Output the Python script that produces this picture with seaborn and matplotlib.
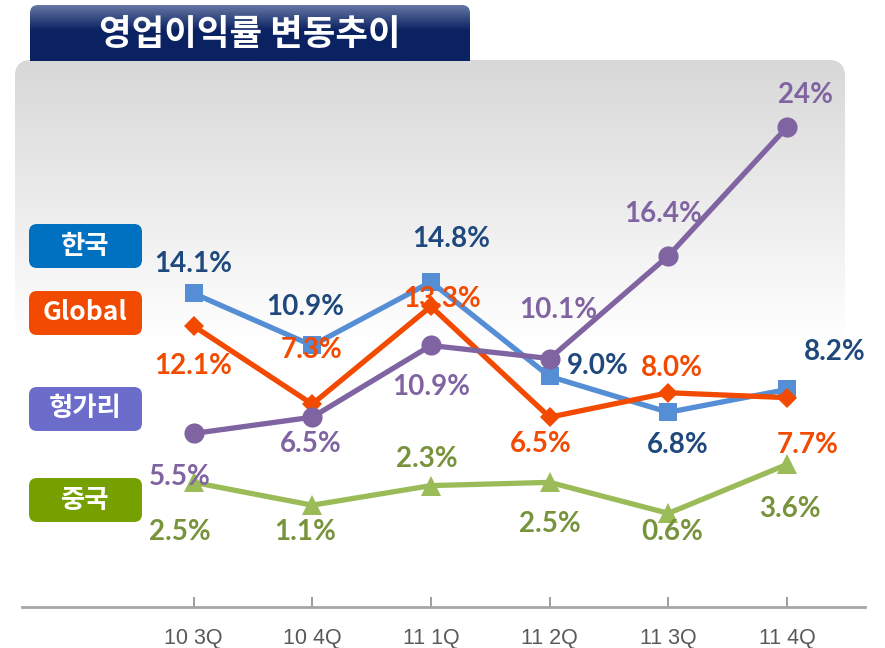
import numpy as np
import pandas as pd
import matplotlib
matplotlib.use("Agg")
import matplotlib.pyplot as plt
from matplotlib.patches import FancyBboxPatch
from matplotlib import font_manager
from matplotlib.colors import to_rgb
import seaborn as sns

sns.set_theme(style="white")

# data
quarters = ["10 3Q", "10 4Q", "11 1Q", "11 2Q", "11 3Q", "11 4Q"]
korea = [14.1, 10.9, 14.8, 9.0, 6.8, 8.2]
glob = [12.1, 7.3, 13.3, 6.5, 8.0, 7.7]
hungary = [5.5, 6.5, 10.9, 10.1, 16.4, 24.3]
china = [2.5, 1.1, 2.3, 2.5, 0.6, 3.6]
series_names = ["한국", "Global", "헝가리", "중국"]
hungary_labels = ["5.5%", "6.5%", "10.9%", "10.1%", "16.4%", "24%"]
title = "영업이익률 변동추이"

names = {f.name for f in font_manager.fontManager.ttflist}
kr_font = "Noto Sans CJK KR"
num_font = "Lato" if "Lato" in names else "DejaVu Sans"
tick_font = "Liberation Sans Narrow" if "Liberation Sans Narrow" in names else "Liberation Sans"
plt.rcParams["font.family"] = [kr_font, "DejaVu Sans"]

df = pd.DataFrame({
    "pos": list(range(len(quarters))) * 4,
    "series": np.repeat(series_names, len(quarters)),
    "value": korea + glob + hungary + china,
})

line_col = {"한국": "#558ED5", "Global": "#F24A00", "헝가리": "#8064A2", "중국": "#9BBB59"}
text_col = {"한국": "#1F497D", "Global": "#F24A00", "헝가리": "#8064A2", "중국": "#77933C"}
box_col = {"한국": "#0070C0", "Global": "#F24A00", "헝가리": "#6C6CCB", "중국": "#76A000"}
marker = {"한국": "s", "Global": "D", "헝가리": "o", "중국": "^"}
msize = {"한국": 13, "Global": 10, "헝가리": 14.5, "중국": 15}

# label offsets in pixels (dx, dy up) from each point
offsets = {
    "한국": [(0, 31), (-7, 40), (20, 45), (48, 12), (9, -31), (48, 39)],
    "Global": [(0, -38), (-1, 56), (11, 9), (-9, -25), (4, 27), (21, -45)],
    "헝가리": [(-14, -42), (-1, -25), (0, -40), (9, 51), (-5, 44), (18, 34)],
    "중국": [(-14, -48), (-7, -25), (-4, 29), (0, -40), (4, -17), (3, -43)],
}

fig = plt.figure(figsize=(8.85, 6.48), dpi=100)

# background decoration layer in pixel coords
bg = fig.add_axes([0, 0, 1, 1], zorder=0)
bg.set_xlim(0, 885)
bg.set_ylim(648, 0)
bg.axis("off")


def grad_img(top_col, bot_col, n, stops):
    t = np.linspace(0, 1, n)
    f = np.clip((t - stops[0]) / (stops[1] - stops[0]), 0, 1)[:, None]
    a = np.array(to_rgb(top_col))
    b = np.array(to_rgb(bot_col))
    return (a * (1 - f) + b * f)[:, None, :]


panel = FancyBboxPatch((15, 60), 830, 560, boxstyle="round,pad=0,rounding_size=16",
                       facecolor="none", edgecolor="none")
bg.add_patch(panel)
im = bg.imshow(grad_img("#D8D8D8", "#FFFFFF", 300, (0.0, 0.5)), extent=(15, 845, 620, 60),
               aspect="auto", origin="upper")
im.set_clip_path(panel)

tbox = FancyBboxPatch((30, 5), 440, 80, boxstyle="round,pad=0,rounding_size=8",
                      facecolor="none", edgecolor="none")
bg.add_patch(tbox)
tim = bg.imshow(grad_img("#6477A4", "#0B2262", 100, (0.0, 0.45)), extent=(30, 470, 61, 5),
                aspect="auto", origin="upper")
tim.set_clip_path(tbox)
bg.text(250, 34, title, color="white", fontsize=25.5, fontweight="bold",
        ha="center", va="center", family=[kr_font, "DejaVu Sans"])

box_y = {"한국": 224, "Global": 291, "헝가리": 387, "중국": 478}
for name in series_names:
    y0 = box_y[name]
    bg.add_patch(FancyBboxPatch((29, y0), 113, 44, boxstyle="round,pad=0,rounding_size=8",
                                facecolor=box_col[name], edgecolor="none"))
    bg.text(85.5, y0 + 22, name, color="white", fontsize=19, fontweight="bold",
            ha="center", va="center", family=[kr_font, "DejaVu Sans"])

# main chart
ax = fig.add_axes([22 / 885, 41 / 648, 843 / 885, 545 / 648], zorder=2)
ax.set_facecolor("none")
for name in series_names:
    sub = df[df["series"] == name]
    sns.lineplot(data=sub, x="pos", y="value", color=line_col[name], marker=marker[name],
                 markersize=msize[name], markeredgewidth=0, linewidth=3.8, ax=ax)

for name in series_names:
    sub = df[df["series"] == name].reset_index(drop=True)
    for i, row in sub.iterrows():
        if name == "헝가리":
            lab = hungary_labels[i]
        else:
            lab = f"{row['value']:.1f}%"
        dx, dy = offsets[name][i]
        ax.annotate(lab, (row["pos"], row["value"]), xytext=(dx, dy - 10),
                    textcoords="offset pixels", ha="center", va="baseline",
                    color=text_col[name], fontsize=20, fontweight="bold",
                    family=num_font, zorder=5)

ax.set_xlim(-1.445, 5.657)
ax.set_ylim(-5.15, 28.3)
ax.set_xticks(range(len(quarters)))
ax.set_xticklabels(quarters, family=tick_font)
ax.set_yticks([])
ax.set_xlabel("")
ax.set_ylabel("")
for s in ["top", "left", "right"]:
    ax.spines[s].set_visible(False)
ax.spines["bottom"].set_color("#A6A6A6")
ax.spines["bottom"].set_linewidth(2)
ax.tick_params(axis="x", direction="in", length=7, width=1.2, color="#8C8C8C",
               labelcolor="#595959", labelsize=15.5, pad=15, bottom=True)

fig.savefig("out.png", dpi=100)
